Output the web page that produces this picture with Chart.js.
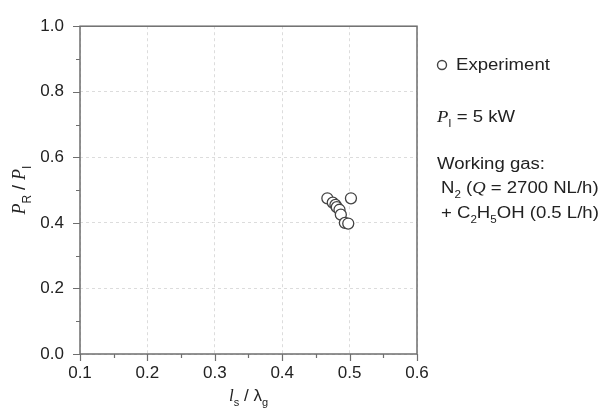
<!DOCTYPE html>
<html>
<head>
<meta charset="utf-8">
<script src="https://cdn.jsdelivr.net/npm/chart.js@4"></script>
<style>
  html, body { margin: 0; padding: 0; background: #fff; }
  #wrap { width: 602px; height: 412px; }
</style>
</head>
<body>
<div id="wrap"><canvas id="chart" width="602" height="412"></canvas></div>
<script>
// données
const lsOverLg = [0.467, 0.475, 0.479, 0.481, 0.485, 0.487, 0.493, 0.498, 0.502];
const prOverPi = [0.475, 0.462, 0.455, 0.448, 0.440, 0.425, 0.400, 0.398, 0.475];
const xTicks = [0.1, 0.2, 0.3, 0.4, 0.5, 0.6];
const yTicks = [0.0, 0.2, 0.4, 0.6, 0.8, 1.0];
const seriesName = 'Experiment';

const AXIS_COLOR = '#6e6e6e';
const TEXT_COLOR = '#222';
const FONT = '"Liberation Sans", Arial, sans-serif';
const SERIF = '"Liberation Serif", "Times New Roman", serif';
const STRETCH = 1.16; // le texte de la figure d'origine est un peu étiré en largeur

// dessine un texte avec indices : parts = [[texte, 'n'|'i'|'sub'|'isub'], ...]
function setPartFont(ctx, kind, size) {
    const sub = kind === 'sub' || kind === 'isub';
    const italic = kind === 'i' || kind === 'isub';
    const serif = kind === 'i' || kind === 'isub';
    const s = sub ? Math.round(size * 0.65) : size;
    ctx.font = (italic ? 'italic ' : '') + s + 'px ' + (serif ? SERIF : FONT);
    return sub;
}

function drawRich(ctx, parts, x, y, size) {
    let cx = x;
    parts.forEach(([txt, kind]) => {
        const sub = setPartFont(ctx, kind, size);
        ctx.fillText(txt, cx, sub ? y + size * 0.32 : y);
        cx += ctx.measureText(txt).width;
    });
    return cx - x;
}

function measureRich(ctx, parts, size) {
    let w = 0;
    parts.forEach(([txt, kind]) => {
        setPartFont(ctx, kind, size);
        w += ctx.measureText(txt).width;
    });
    return w;
}

function drawStretched(ctx, parts, x, y, size) {
    ctx.save();
    ctx.translate(x, y);
    ctx.scale(STRETCH, 1);
    drawRich(ctx, parts, 0, 0, size);
    ctx.restore();
}

// cadre, graduations, titres et légende
const decorPlugin = {
    id: 'decor',
    afterDraw(chart) {
        const { ctx, chartArea: a, scales: { x, y } } = chart;
        ctx.save();
        ctx.strokeStyle = AXIS_COLOR;
        ctx.lineWidth = 1.5;
        ctx.strokeRect(a.left, a.top, a.right - a.left, a.bottom - a.top);

        ctx.lineWidth = 1.2;
        ctx.beginPath();
        for (let v = 0.1; v <= 0.6001; v += 0.05) {
            const px = Math.round(x.getPixelForValue(v)) + 0.5;
            const major = Math.abs(v * 10 - Math.round(v * 10)) < 1e-6;
            ctx.moveTo(px, a.bottom);
            ctx.lineTo(px, a.bottom + (major ? 7 : 4));
        }
        for (let v = 0; v <= 1.0001; v += 0.1) {
            const py = Math.round(y.getPixelForValue(v)) + 0.5;
            const major = Math.abs(v * 5 - Math.round(v * 5)) < 1e-6;
            ctx.moveTo(a.left, py);
            ctx.lineTo(a.left - (major ? 7 : 4), py);
        }
        ctx.stroke();

        ctx.fillStyle = TEXT_COLOR;
        ctx.textBaseline = 'alphabetic';
        ctx.textAlign = 'left';

        // titre de l'axe x : l_s / λ_g
        const xParts = [['l', 'i'], ['s', 'sub'], [' / ', 'n'], ['λ', 'n'], ['g', 'sub']];
        const xw = measureRich(ctx, xParts, 17);
        drawRich(ctx, xParts, (a.left + a.right) / 2 - xw / 2, 401, 17);

        // titre de l'axe y : P_R / P_I
        const yParts = [['P', 'i'], ['R', 'sub'], [' / ', 'n'], ['P', 'i'], ['I', 'sub']];
        const yw = measureRich(ctx, yParts, 18);
        ctx.save();
        ctx.translate(25, (a.top + a.bottom) / 2 + yw / 2);
        ctx.rotate(-Math.PI / 2);
        drawRich(ctx, yParts, 0, 0, 18);
        ctx.restore();

        // légende
        ctx.beginPath();
        ctx.arc(442, 65, 4.5, 0, Math.PI * 2);
        ctx.fillStyle = '#fff';
        ctx.fill();
        ctx.strokeStyle = '#444';
        ctx.lineWidth = 1.4;
        ctx.stroke();
        ctx.fillStyle = TEXT_COLOR;
        drawStretched(ctx, [[seriesName, 'n']], 456, 70, 16);

        drawStretched(ctx, [['P', 'i'], ['I', 'sub'], [' = 5 kW', 'n']], 437, 122, 16);
        drawStretched(ctx, [['Working gas:', 'n']], 437, 169, 16);
        drawStretched(ctx, [['N', 'n'], ['2', 'sub'], [' (', 'n'], ['Q', 'i'], [' = 2700 NL/h)', 'n']], 441, 193, 16);
        drawStretched(ctx, [['+ C', 'n'], ['2', 'sub'], ['H', 'n'], ['5', 'sub'], ['OH (0.5 L/h)', 'n']], 441, 218, 16);
        ctx.restore();
    }
};

const points = lsOverLg.map((v, i) => ({ x: v, y: prOverPi[i] }));

new Chart(document.getElementById('chart'), {
    type: 'scatter',
    data: {
        datasets: [{
            label: seriesName,
            data: points,
            pointRadius: 5.5,
            pointBackgroundColor: '#fff',
            pointBorderColor: '#444',
            pointBorderWidth: 1.3,
        }]
    },
    options: {
        responsive: false,
        animation: false,
        layout: { padding: { top: 22, right: 185, left: 0, bottom: 0 } },
        plugins: { legend: { display: false }, tooltip: { enabled: false } },
        scales: {
            x: {
                type: 'linear',
                min: 0.1,
                max: 0.6,
                afterFit: (s) => { s.height = 58; },
                afterBuildTicks: (s) => { s.ticks = xTicks.map(v => ({ value: v })); },
                border: { display: false, dash: [3, 3] },
                grid: { drawTicks: false, color: '#dcdcdc', lineWidth: 1 },
                ticks: {
                    padding: 9,
                    color: TEXT_COLOR,
                    font: { family: FONT, size: 17 },
                    callback: (v) => v.toFixed(1),
                },
            },
            y: {
                type: 'linear',
                min: 0,
                max: 1,
                afterFit: (s) => { s.width = 80; },
                afterBuildTicks: (s) => { s.ticks = yTicks.map(v => ({ value: v })); },
                border: { display: false, dash: [3, 3] },
                grid: { drawTicks: false, color: '#dcdcdc', lineWidth: 1 },
                ticks: {
                    padding: 16,
                    color: TEXT_COLOR,
                    font: { family: FONT, size: 17 },
                    callback: (v) => v.toFixed(1),
                },
            },
        },
    },
    plugins: [decorPlugin],
});
</script>
</body>
</html>
